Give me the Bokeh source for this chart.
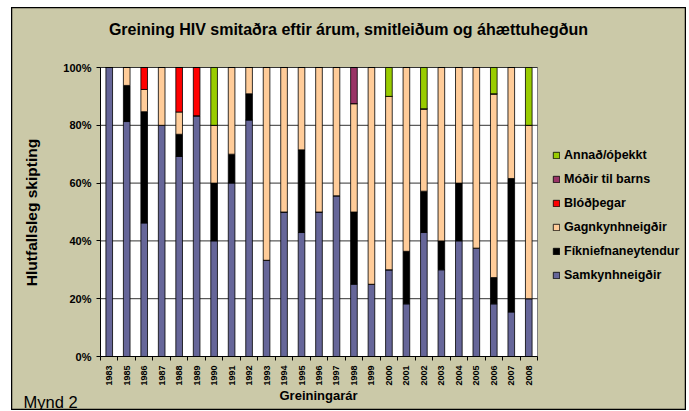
import math
from bokeh.plotting import figure
from bokeh.models import (ColumnDataSource, FixedTicker, PrintfTickFormatter, Legend,
                          LegendItem, Label, Spacer, Range1d, LinearAxis)
from bokeh.layouts import row, column
from bokeh.embed import file_html
from bokeh.resources import INLINE

years = ["1983", "1985", "1986", "1987", "1988", "1989", "1990", "1991", "1992",
         "1993", "1994", "1995", "1996", "1997", "1998", "1999", "2000", "2001",
         "2002", "2003", "2004", "2005", "2006", "2007", "2008"]
samkynhneigdir = [100, 81.3, 46.2, 80, 69.2, 83.3, 40, 60, 81.8, 33.3, 50, 42.9, 50,
                  55.6, 25, 25, 30, 18.2, 42.9, 30, 40, 37.5, 18.2, 15.4, 20]
fikniefnaneytendur = [0, 12.5, 38.5, 0, 7.7, 0, 20, 10, 9.1, 0, 0, 28.6, 0,
                      0, 25, 0, 0, 18.2, 14.3, 10, 20, 0, 9.1, 46.2, 0]
gagnkynhneigdir = [0, 6.2, 7.7, 20, 7.7, 0, 20, 30, 9.1, 66.7, 50, 28.5, 50,
                   44.4, 37.5, 75, 60, 63.6, 28.5, 60, 40, 62.5, 63.6, 38.4, 60]
blodthegar = [0, 0, 7.6, 0, 15.4, 16.7, 0, 0, 0, 0, 0, 0, 0,
              0, 0, 0, 0, 0, 0, 0, 0, 0, 0, 0, 0]
modir_til_barns = [0, 0, 0, 0, 0, 0, 0, 0, 0, 0, 0, 0, 0,
                   0, 12.5, 0, 0, 0, 0, 0, 0, 0, 0, 0, 0]
annad = [0, 0, 0, 0, 0, 0, 20, 0, 0, 0, 0, 0, 0,
         0, 0, 0, 10, 0, 14.3, 0, 0, 0, 9.1, 0, 20]
yticks = [0, 20, 40, 60, 80, 100]

series_names = ["Samkynhneigðir", "Fíkniefnaneytendur", "Gagnkynhneigðir",
                "Blóðþegar", "Móðir til barns", "Annað/óþekkt"]
colors = ["#666699", "#000000", "#FFCC99", "#FF0000", "#993366", "#99CC00"]
keys = ["s", "f", "g", "b", "m", "a"]

FONT = "Liberation Sans"
BG = "#CBC9A8"

# ---- layout (pixels, relative to the figure's top-left) ----
W, H = 675, 403
PL, PR, PT, PB = 89, 526, 60, 349          # plot-area edges inside the figure
n = len(years)
x_lo, x_hi = -0.5, n - 0.5
y_lo, y_hi = 0, 100
ppx = (PR - PL) / (x_hi - x_lo)
ppy = (PB - PT) / (y_hi - y_lo)
xr = Range1d(x_lo - PL / ppx, x_hi + (W - PR) / ppx)
yr = Range1d(y_lo - (H - PB) / ppy, y_hi + PT / ppy)

x = list(range(n))
source = ColumnDataSource(data=dict(x=x, s=samkynhneigdir, f=fikniefnaneytendur,
                                    g=gagnkynhneigdir, b=blodthegar,
                                    m=modir_til_barns, a=annad))

p = figure(width=W, height=H, output_backend="svg", toolbar_location=None,
           x_range=xr, y_range=yr, x_axis_location=None, y_axis_location=None,
           min_border=0)
p.background_fill_color = BG
p.border_fill_color = BG
p.outline_line_color = "black"
p.outline_line_width = 1.5
p.xgrid.visible = False
p.ygrid.visible = False

# white plot area
p.quad(left=[x_lo], right=[x_hi], bottom=[y_lo], top=[y_hi],
       fill_color="white", line_color="#808080", line_width=1)
# horizontal grid lines
p.segment(x0=[x_lo] * (len(yticks) - 1), x1=[x_hi] * (len(yticks) - 1),
          y0=yticks[1:], y1=yticks[1:], line_color="#333333", line_width=1)

renderers = p.vbar_stack(keys, x="x", width=0.38, source=source, color=colors,
                         line_color="black", line_width=0.8)
for r, c in zip(renderers, colors):
    r.glyph.fill_color = c
    r.glyph.line_color = "black"

# y axis
yaxis = LinearAxis(fixed_location=x_lo, bounds=(y_lo, y_hi))
yaxis.ticker = FixedTicker(ticks=yticks)
yaxis.formatter = PrintfTickFormatter(format="%d%%")
yaxis.major_label_text_font = FONT
yaxis.major_label_text_font_style = "bold"
yaxis.major_label_text_font_size = "11px"
yaxis.major_label_text_color = "black"
yaxis.major_tick_out = 4
yaxis.major_tick_in = 0
yaxis.minor_tick_out = 0
yaxis.minor_tick_in = 0
yaxis.major_label_standoff = 5
yaxis.axis_line_color = "black"
yaxis.major_tick_line_color = "black"
p.add_layout(yaxis, "left")

# x axis
xaxis = LinearAxis(fixed_location=y_lo, bounds=(x_lo, x_hi))
xaxis.ticker = FixedTicker(ticks=x, minor_ticks=[i - 0.5 for i in range(n + 1)])
xaxis.major_label_overrides = {i: yv for i, yv in enumerate(years)}
xaxis.major_label_orientation = math.pi / 2
xaxis.major_label_text_font = FONT
xaxis.major_label_text_font_style = "bold"
xaxis.major_label_text_font_size = "9px"
xaxis.major_label_text_color = "black"
xaxis.major_tick_out = 0
xaxis.major_tick_in = 0
xaxis.minor_tick_out = 4
xaxis.minor_tick_in = 0
xaxis.minor_tick_line_color = "black"
xaxis.major_label_standoff = 5
xaxis.axis_line_color = "black"
p.add_layout(xaxis, "below")

# legend
items = [LegendItem(label=nm, renderers=[r]) for nm, r in zip(series_names, renderers)]
items = items[::-1]
legend = Legend(items=items, location=(541, 127), orientation="vertical",
                glyph_width=8, glyph_height=8, label_height=16, spacing=8,
                padding=0, margin=0, label_standoff=4,
                label_text_font=FONT, label_text_font_style="bold",
                label_text_font_size="12.5px", label_text_color="black",
                border_line_alpha=0, background_fill_alpha=0)
p.add_layout(legend, "center")

# texts (screen units from the figure's bottom-left)
p.add_layout(Label(x=337, y=381, x_units="screen", y_units="screen",
                   text="Greining HIV smitaðra eftir árum, smitleiðum og áhættuhegðun",
                   text_font=FONT, text_font_style="bold", text_font_size="16px",
                   text_align="center", text_baseline="middle", text_color="black"))
p.add_layout(Label(x=20, y=198, x_units="screen", y_units="screen",
                   text="Hlutfallsleg skipting", angle=math.pi / 2,
                   text_font=FONT, text_font_style="bold", text_font_size="15.5px",
                   text_align="center", text_baseline="middle", text_color="black"))
p.add_layout(Label(x=307, y=15, x_units="screen", y_units="screen",
                   text="Greiningarár",
                   text_font=FONT, text_font_style="bold", text_font_size="13px",
                   text_align="center", text_baseline="middle", text_color="black"))
p.add_layout(Label(x=12, y=9, x_units="screen", y_units="screen",
                   text="Mynd 2",
                   text_font=FONT, text_font_size="16.5px",
                   text_align="left", text_baseline="alphabetic", text_color="black"))

layout = column(Spacer(width=W + 11, height=7), row(Spacer(width=11, height=H), p))

with open("out.html", "w") as f:
    f.write(file_html(layout, INLINE))
